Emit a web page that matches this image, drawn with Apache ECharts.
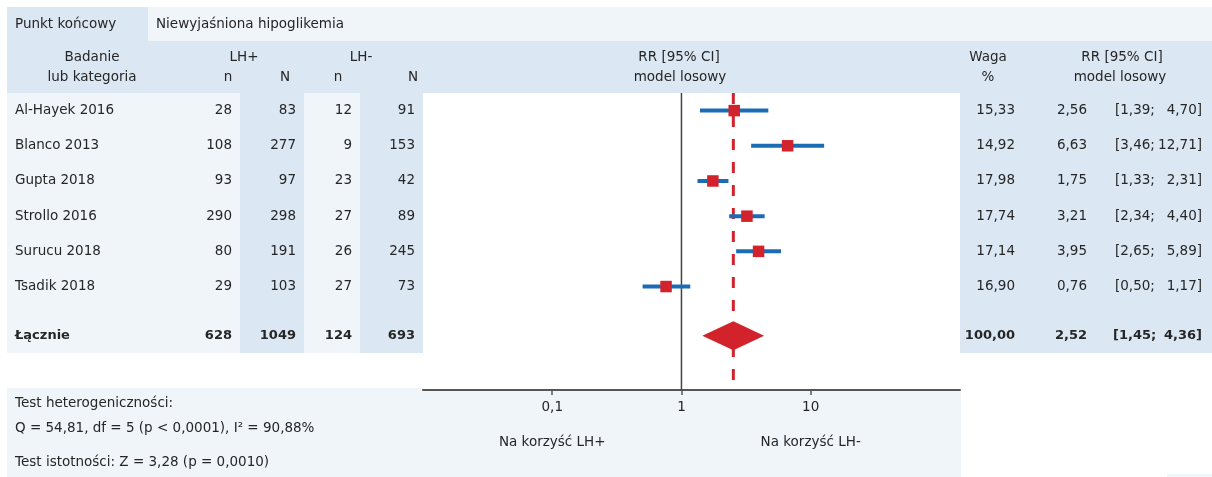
<!DOCTYPE html>
<html>
<head>
<meta charset="utf-8">
<script src="https://cdn.jsdelivr.net/npm/echarts@6/dist/echarts.min.js"></script>
<style>
  html, body { margin: 0; padding: 0; background: #ffffff; }
  #chart { width: 1212px; height: 477px; }
</style>
</head>
<body>
<div id="chart"></div>
<script>
// ---- data ----
const endpointLabel = 'Punkt końcowy';
const endpointName = 'Niewyjaśniona hipoglikemia';

const studies = ['Al-Hayek 2016', 'Blanco 2013', 'Gupta 2018', 'Strollo 2016', 'Surucu 2018', 'Tsadik 2018'];
const eventsPlus = [28, 108, 93, 290, 80, 29];
const totalPlus = [83, 277, 97, 298, 191, 103];
const eventsMinus = [12, 9, 23, 27, 26, 27];
const totalMinus = [91, 153, 42, 89, 245, 73];
const weights = [15.33, 14.92, 17.98, 17.74, 17.14, 16.90];
const rr = [2.56, 6.63, 1.75, 3.21, 3.95, 0.76];
const ciLow = [1.39, 3.46, 1.33, 2.34, 2.65, 0.50];
const ciHigh = [4.70, 12.71, 2.31, 4.40, 5.89, 1.17];

const pooledLabel = 'Łącznie';
const pooledCounts = [628, 1049, 124, 693];
const pooledWeight = 100;
const pooledRR = [2.52, 1.45, 4.36]; // estimate, lower, upper

const axisTicks = [0.1, 1, 10];
const favourLabels = ['Na korzyść LH+', 'Na korzyść LH-'];

const heterogeneity = { Q: 54.81, df: 5, p: '< 0,0001', I2: 90.88 };
const significance = { Z: 3.28, p: '= 0,0010' };

// ---- styles / layout ----
const FONT = '"DejaVu Sans", sans-serif';
const FS = 13.5;       // regular text size
const FS_BOLD = 13;    // bold summary row size
const TEXT = '#262626';
const BLUE_BG = '#dbe7f3';
const LIGHT_BG = '#f0f5fa';
const CI_BLUE = '#1c6bb5';
const MARK_RED = '#d2232d';

const ROW_MIN = -0.5, ROW_MAX = 7.94, TOTAL_ROW = 6.4;
const LOG_MIN = -2, LOG_MAX = Math.log10(143);

const fmt2 = v => v.toFixed(2).replace('.', ',');
const fmtTick = v => String(v).replace('.', ',');
const lg = v => Math.log10(v);
const fontOf = bold => bold ? 'bold ' + FS_BOLD + 'px ' + FONT : FS + 'px ' + FONT;

// column anchors (px) of the table text
const COL = { name: 15, nPlus: 232, NPlus: 296, nMinus: 352, NMinus: 415,
              weight: 1015, rr: 1087, ciL: 1115, ciR: 1202 };

const cells = [];
function cell(x, row, text, align, bold) { cells.push({ x, row, text, align, bold: !!bold }); }
studies.forEach((s, i) => {
  cell(COL.name, i, s, 'left');
  cell(COL.nPlus, i, String(eventsPlus[i]), 'right');
  cell(COL.NPlus, i, String(totalPlus[i]), 'right');
  cell(COL.nMinus, i, String(eventsMinus[i]), 'right');
  cell(COL.NMinus, i, String(totalMinus[i]), 'right');
  cell(COL.weight, i, fmt2(weights[i]), 'right');
  cell(COL.rr, i, fmt2(rr[i]), 'right');
  cell(COL.ciL, i, '[' + fmt2(ciLow[i]) + ';', 'left');
  cell(COL.ciR, i, fmt2(ciHigh[i]) + ']', 'right');
});
cell(COL.name, TOTAL_ROW, pooledLabel, 'left', true);
[COL.nPlus, COL.NPlus, COL.nMinus, COL.NMinus].forEach((x, k) => cell(x, TOTAL_ROW, String(pooledCounts[k]), 'right', true));
cell(COL.weight, TOTAL_ROW, fmt2(pooledWeight), 'right', true);
cell(COL.rr, TOTAL_ROW, fmt2(pooledRR[0]), 'right', true);
cell(COL.ciL - 2, TOTAL_ROW, '[' + fmt2(pooledRR[1]) + ';', 'left', true);
cell(COL.ciR, TOTAL_ROW, fmt2(pooledRR[2]) + ']', 'right', true);

// ---- background panels and header texts ----
const rect = (x, y, w, h, fill) => ({ type: 'rect', silent: true, z: -10, shape: { x, y, width: w, height: h }, style: { fill } });
const txt = (x, y, text, align) => ({
  type: 'text', silent: true, x, y,
  style: { text, align: align || 'center', verticalAlign: 'middle', fill: TEXT, font: fontOf(false) }
});

const graphics = [
  rect(7, 7, 141, 34, BLUE_BG),
  rect(148, 7, 1064, 34, LIGHT_BG),
  rect(7, 41, 1205, 52, BLUE_BG),
  rect(7, 93, 233, 260, LIGHT_BG),
  rect(240, 93, 64, 260, BLUE_BG),
  rect(304, 93, 56, 260, LIGHT_BG),
  rect(360, 93, 63, 260, BLUE_BG),
  rect(960, 93, 252, 260, BLUE_BG),
  rect(7, 388, 416, 89, LIGHT_BG),
  rect(423, 391, 538, 86, LIGHT_BG),
  rect(1167, 474, 45, 3, LIGHT_BG),

  txt(15, 24, endpointLabel, 'left'),
  txt(156, 24, endpointName, 'left'),
  txt(92, 57, 'Badanie'), txt(92, 77, 'lub kategoria'),
  txt(244, 57, 'LH+'), txt(228, 77, 'n'), txt(285, 77, 'N'),
  txt(361, 57, 'LH-'), txt(338, 77, 'n'), txt(413, 77, 'N'),
  txt(679, 57, 'RR [95% CI]'), txt(680, 77, 'model losowy'),
  txt(988, 57, 'Waga'), txt(988, 77, '%'),
  txt(1122, 57, 'RR [95% CI]'), txt(1120, 77, 'model losowy'),

  txt(15, 403, 'Test heterogeniczności:', 'left'),
  txt(15, 428, 'Q = ' + fmt2(heterogeneity.Q) + ', df = ' + heterogeneity.df + ' (p ' + heterogeneity.p +
      '), I² = ' + fmt2(heterogeneity.I2) + '%', 'left'),
  txt(15, 462, 'Test istotności: Z = ' + fmt2(significance.Z) + ' (p ' + significance.p + ')', 'left')
];

// ---- chart ----
const chart = echarts.init(document.getElementById('chart'), null, { renderer: 'canvas' });

const rowAxis = (gridIndex) => ({
  type: 'value', gridIndex, min: ROW_MIN, max: ROW_MAX, inverse: true, show: false
});

const option = {
  animation: false,
  backgroundColor: '#ffffff',
  textStyle: { fontFamily: FONT },
  graphic: { elements: graphics },
  grid: [
    { left: 423, right: 252, top: 93, bottom: 87 },
    { left: 0, right: 0, top: 93, bottom: 87 }
  ],
  xAxis: [
    {
      type: 'value', gridIndex: 0, min: LOG_MIN, max: LOG_MAX, position: 'bottom',
      splitLine: { show: false },
      axisLine: { onZero: false, lineStyle: { color: '#555555', width: 2 } },
      axisTick: { show: true, customValues: axisTicks.map(lg), length: 5, lineStyle: { color: '#555555', width: 1.5 } },
      axisLabel: {
        customValues: axisTicks.map(lg), margin: 9,
        formatter: (v) => {
          const t = fmtTick(Math.round(Math.pow(10, v) * 1000) / 1000);
          let out = '{t|' + t + '}';
          if (v < -0.5) out += '\n{s|' + favourLabels[0] + '}';
          if (v > 0.5) out += '\n{s|' + favourLabels[1] + '}';
          return out;
        },
        rich: {
          t: { fontFamily: FONT, fontSize: FS, color: TEXT, lineHeight: 16 },
          s: { fontFamily: FONT, fontSize: FS, color: TEXT, lineHeight: 54 }
        }
      }
    },
    { type: 'value', gridIndex: 1, min: 0, max: 1212, show: false }
  ],
  yAxis: [rowAxis(0), rowAxis(1)],
  series: [
    // line of no effect (RR = 1)
    {
      type: 'line', xAxisIndex: 0, yAxisIndex: 0, symbol: 'none', silent: true, z: 2,
      lineStyle: { color: '#444444', width: 1.5 },
      data: [[lg(1), ROW_MIN], [lg(1), ROW_MAX]]
    },
    // pooled estimate reference line
    {
      type: 'line', xAxisIndex: 0, yAxisIndex: 0, symbol: 'none', silent: true, z: 3,
      lineStyle: { color: MARK_RED, width: 3, type: [11, 12] },
      data: [[lg(pooledRR[0]), ROW_MIN], [lg(pooledRR[0]), ROW_MAX]]
    },
    // study estimates with confidence intervals
    {
      type: 'custom', xAxisIndex: 0, yAxisIndex: 0, z: 4, silent: true,
      encode: { x: 0, y: 1 },
      data: studies.map((s, i) => [lg(rr[i]), i, lg(ciLow[i]), lg(ciHigh[i])]),
      renderItem: (params, api) => {
        const row = api.value(1);
        const c = api.coord([api.value(0), row]);
        const l = api.coord([api.value(2), row]);
        const h = api.coord([api.value(3), row]);
        const s = 11.5;
        return {
          type: 'group',
          children: [
            { type: 'line', shape: { x1: l[0], y1: c[1], x2: h[0], y2: c[1] }, style: { stroke: CI_BLUE, lineWidth: 4 } },
            { type: 'rect', shape: { x: c[0] - s / 2, y: c[1] - s / 2, width: s, height: s }, style: { fill: MARK_RED } }
          ]
        };
      }
    },
    // pooled estimate diamond
    {
      type: 'custom', xAxisIndex: 0, yAxisIndex: 0, z: 5, silent: true,
      encode: { x: 0, y: 1 },
      data: [[lg(pooledRR[0]), TOTAL_ROW, lg(pooledRR[1]), lg(pooledRR[2])]],
      renderItem: (params, api) => {
        const row = api.value(1);
        const c = api.coord([api.value(0), row]);
        const l = api.coord([api.value(2), row]);
        const h = api.coord([api.value(3), row]);
        const hh = 14.5;
        return {
          type: 'polygon',
          shape: { points: [[l[0], c[1]], [c[0], c[1] - hh], [h[0], c[1]], [c[0], c[1] + hh]] },
          style: { fill: MARK_RED }
        };
      }
    },
    // table text
    {
      type: 'custom', xAxisIndex: 1, yAxisIndex: 1, z: 6, silent: true, clip: false,
      encode: { x: 0, y: 1 },
      data: cells.map(c => [c.x, c.row]),
      renderItem: (params, api) => {
        const c = cells[params.dataIndex];
        const p = api.coord([api.value(0), api.value(1)]);
        return {
          type: 'text', x: p[0], y: p[1],
          style: { text: c.text, align: c.align, verticalAlign: 'middle', fill: TEXT, font: fontOf(c.bold) }
        };
      }
    }
  ]
};

chart.setOption(option);
</script>
</body>
</html>
